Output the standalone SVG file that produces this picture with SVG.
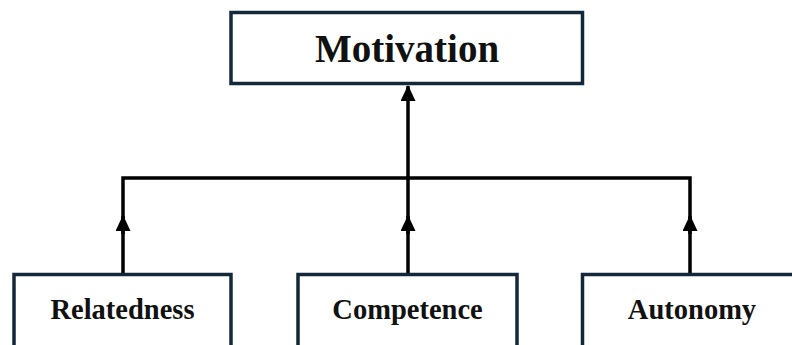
<svg xmlns="http://www.w3.org/2000/svg" width="792" height="345" viewBox="0 0 792 345">
<style>
.box{fill:#ffffff;stroke:#13293a;stroke-width:3.5}
.lbl{font-family:"Liberation Serif","Times New Roman",serif;font-weight:bold;fill:#111;text-anchor:middle}
.con{fill:none;stroke:#000;stroke-width:3.5}
</style>
<defs>
<marker id="ah" viewBox="0 0 16 15" refX="15" refY="7.5" markerWidth="16" markerHeight="15" markerUnits="userSpaceOnUse" orient="auto">
<path d="M0,0 L16,7.5 L0,15 Z" fill="#000"/>
</marker>
</defs>
<rect width="792" height="345" fill="#ffffff"/>
<g id="connectors">
<path class="con" d="M123,275 V178 H690 V275"/>
<path class="con" d="M408,275 V86" marker-end="url(#ah)"/>
<path class="con" d="M123,234 V216" marker-end="url(#ah)"/>
<path class="con" d="M408,234 V216" marker-end="url(#ah)"/>
<path class="con" d="M690,234 V216" marker-end="url(#ah)"/>
</g>
<g id="motivation">
<rect class="box" x="231" y="12.5" width="351.5" height="71"/>
<text class="lbl" x="407" y="62" font-size="39">Motivation</text>
</g>
<g id="relatedness">
<rect class="box" x="14" y="274.5" width="217" height="80"/>
<text class="lbl" x="122.5" y="319" font-size="28.5">Relatedness</text>
</g>
<g id="competence">
<rect class="box" x="298" y="274.5" width="219" height="80"/>
<text class="lbl" x="407.5" y="319" font-size="28.5">Competence</text>
</g>
<g id="autonomy">
<rect class="box" x="582.5" y="274.5" width="220" height="80"/>
<text class="lbl" x="692" y="319" font-size="28.5">Autonomy</text>
</g>
</svg>
